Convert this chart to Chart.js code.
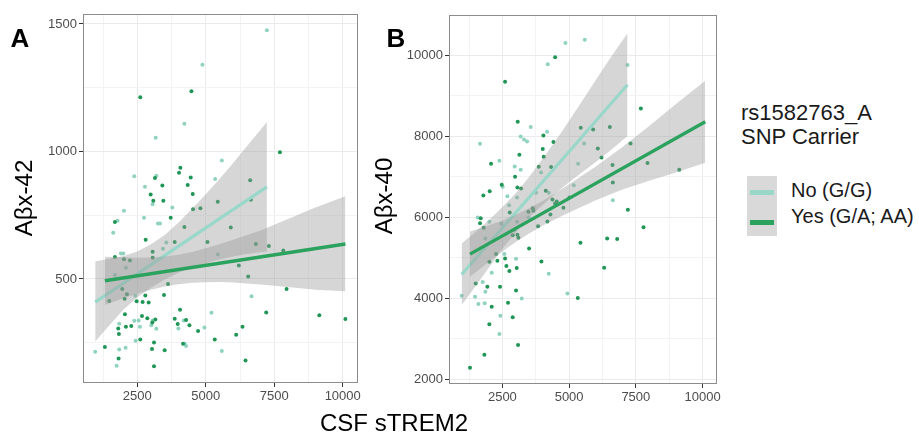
<!DOCTYPE html>
<html><head><meta charset="utf-8">
<script src="https://cdn.jsdelivr.net/npm/chart.js@4.4.0/dist/chart.umd.min.js"></script>
<style>
body{margin:0;background:#fff;}
#wrap{position:relative;width:919px;height:434px;overflow:hidden;font-family:'Liberation Sans',Arial,sans-serif;background:#fff;}
canvas{position:absolute;}
.t{position:absolute;white-space:nowrap;color:#000;}
</style></head><body><div id="wrap">
<canvas id="cA" width="370" height="410" style="left:0px;top:0px"></canvas>
<canvas id="cB" width="360" height="410" style="left:370px;top:0px"></canvas>
<div class="t" style="left:10.5px;top:25px;font-size:26px;line-height:26px;font-weight:bold;">A</div>
<div class="t" style="left:386.5px;top:25px;font-size:26px;line-height:26px;font-weight:bold;">B</div>
<div class="t" style="left:-36px;top:185.5px;width:120px;height:24px;font-size:24px;line-height:24px;text-align:center;transform:rotate(-90deg);">Aβx-42</div>
<div class="t" style="left:323.5px;top:184px;width:120px;height:24px;font-size:24px;line-height:24px;text-align:center;transform:rotate(-90deg);">Aβx-40</div>
<div class="t" style="left:244px;top:410.7px;width:300px;font-size:24px;line-height:24px;text-align:center;">CSF sTREM2</div>
<div class="t" style="left:741px;top:100.8px;font-size:22px;line-height:24.5px;color:#1a1a1a;">rs1582763_A<br>SNP Carrier</div>
<div style="position:absolute;left:747px;top:176px;width:30px;height:60px;background:#d9d9d9;"></div>
<div style="position:absolute;left:750px;top:189.5px;width:24px;height:5px;background:#99d8c9;"></div>
<div style="position:absolute;left:750px;top:219.5px;width:24px;height:5px;background:#2ca25f;"></div>
<div class="t" style="left:791px;top:180px;font-size:20px;line-height:20px;color:#1a1a1a;">No (G/G)</div>
<div class="t" style="left:791px;top:206.4px;font-size:20px;line-height:20px;color:#1a1a1a;">Yes (G/A; AA)</div>
</div>
<script>
// ---------- Tick values ----------
const xTicks = [1250,2500,3750,5000,6250,7500,8750,10000];
const xMajor = [2500,5000,7500,10000];
const aYTicks = [250,500,750,1000,1250,1500];
const aYMajor = [500,1000,1500];
const bYTicks = [2000,3000,4000,5000,6000,7000,8000,9000,10000];
const bYMajor = [2000,4000,6000,8000,10000];

// ---------- Panel A: Abx-42 ----------
const aNoX = [7232,4878,4220,3171,5586,2390,3195,5341,2780,3061,2012,3780,2744,1780,3256,3329,1622,3561,3439,5439,1902,1988,2085,1683,2427,6671,2390,2549,3061,3012,3195,1841,2597,2439,4000,4195,4951,5207,4232,4280,963,1841,2073,5586,1744];
const aNoY = [1475,1340,1109,1054,965,903,905,892,862,793,767,780,740,728,717,717,681,643,618,596,600,600,544,516,434,432,336,337,337,318,305,324,313,258,306,337,310,367,246,237,215,223,230,217,160];
const aYesX = [4476,2610,7707,4073,4024,3146,4451,3415,4341,6622,2988,4524,3085,3451,6646,4537,4805,5439,3720,1683,4220,5914,2805,3866,3061,5061,6829,7305,7829,1683,3061,2012,2232,1476,1951,2037,2122,2476,2695,2915,2793,3622,3476,6207,6549,7951,2049,2671,2866,3159,3049,2085,1805,2280,1829,2610,3866,4061,3976,4280,4403,4719,5329,6341,6110,7207,9146,10098,3110,4171,1317,3037,3500,1817,3110,6451];
const aYesY = [1236,1213,997,936,916,896,898,866,868,887,831,833,807,807,811,773,777,803,740,723,704,702,654,645,607,645,637,629,612,586,583,577,572,414,461,422,440,413,410,408,435,480,437,553,510,461,362,355,346,341,329,313,306,316,284,263,344,379,323,339,318,296,263,313,281,368,358,343,251,246,233,225,220,188,158,180];
const aNoLineX = [963,7232];
const aNoLineY = [409,861];
const aYesLineX = [1317,10098];
const aYesLineY = [493,637];
const aNoBandX = [963,1500,2000,2500,3000,3500,4000,4500,5000,5500,6000,6500,7000,7232];
const aNoBandUp = [568,580,590,608,636,672,720,775,832,892,955,1020,1085,1115];
const aNoBandLo = [255,320,380,428,466,498,524,545,562,576,588,598,605,608];
const aYesBandX = [1317,2000,2500,3000,3500,4000,4500,5000,5500,6000,7000,8000,9000,10098];
const aYesBandUp = [587,585,583,584,588,595,606,620,636,654,690,735,780,824];
const aYesBandLo = [398,424,442,458,470,479,485,487,488,486,478,468,458,452];

// ---------- Panel B: Abx-40 ----------
const bNoX = [4862,5587,4200,7187,3562,1662,3187,3312,3425,4175,5562,2387,2962,3187,3950,5337,2512,2687,3050,3762,4237,5175,6637,2750,1575,2012,2462,3050,2950,3487,1862,2575,3012,4237,1762,1862,3225,1475,975,1600,1837,4937,2425,2387,2100];
const bNoY = [10296,10379,9770,9753,8222,7811,7992,7918,7868,8107,7819,7391,7251,7169,7103,7317,6747,6517,6485,6600,6600,6788,6419,6296,5992,5885,5836,5885,5680,5992,5474,5088,4973,4604,4398,4160,3996,4037,4062,3856,3873,4119,3569,3117,4630];
const bYesX = [4475,2600,7687,3075,5437,5900,6525,4037,4412,6075,7300,4012,3137,4050,6212,2075,2975,3862,4325,6625,7937,9125,2475,3062,3200,2025,1787,4125,6637,4375,4537,4475,4787,5012,3637,3475,3662,4300,2775,1687,1662,1800,3837,4187,3062,3100,2887,2012,2262,2312,2600,2650,2762,3037,3500,3962,5425,6425,6800,7200,7787,6312,1500,1937,2412,3012,5325,2100,2712,2887,2012,3087,1825,1287];
const bYesY = [9942,9342,8683,8354,8206,8165,8222,8017,7852,7696,7819,7679,7539,7490,7473,7317,6996,7243,7235,7284,7333,7169,6797,6731,6706,6641,6534,6649,6854,6435,6386,6337,6230,6485,6222,6131,6156,6066,6115,5975,5852,5737,5778,5893,5565,5491,5556,4899,5088,4924,4981,4793,4669,4743,5228,4907,5368,5474,5458,6181,5754,4751,4365,4283,4283,4193,4004,3790,3889,3528,3355,2846,2608,2287];
const bNoLineX = [975,7187];
const bNoLineY = [4587,9267];
const bYesLineX = [1287,10100];
const bYesLineY = [5088,8354];
const bNoBandX = [975,1500,2000,2500,3000,3500,4000,4500,5000,5500,6000,6500,7187];
const bNoBandUp = [5350,5640,5930,6250,6590,6990,7436,7893,8380,8876,9383,9880,10535];
const bNoBandLo = [3830,4300,4760,5220,5620,6000,6296,6593,6860,7116,7363,7620,8000];
const bYesBandX = [1287,2000,2500,3000,3500,4000,4500,5000,6000,7000,8000,9000,10100];
const bYesBandUp = [5648,5800,5920,6060,6220,6400,6600,6810,7250,7730,8250,8790,9364];
const bYesBandLo = [4528,4900,5150,5385,5595,5785,5955,6115,6415,6680,6900,7100,7344];

// ---------- Styling ----------
const NO_COL = '#99d8c9';
const YES_COL = '#2ca25f';
const NO_DOT = '#8fd3bf';
const YES_DOT = '#1f9655';
const BAND = 'rgba(153,153,153,0.4)';
const FONT = 'Liberation Sans';

function pts(xs, ys){ return xs.map((x,i)=>({x:x, y:ys[i]})); }

const borderPlugin = {
  id:'panelBorder',
  afterDraw(chart){
    const a = chart.chartArea, c = chart.ctx;
    c.save(); c.strokeStyle = '#8c8c8c'; c.lineWidth = 1;
    c.strokeRect(Math.round(a.left)+0.5, Math.round(a.top)+0.5, Math.round(a.right-a.left)-1, Math.round(a.bottom-a.top)-1);
    c.restore();
  }
};

function axis(min, max, ticks, major, fitFn){
  const isMaj = v => major.indexOf(v) >= 0;
  return {
    type:'linear', min:min, max:max,
    afterBuildTicks: s => { s.ticks = ticks.map(v=>({value:v})); },
    afterFit: fitFn,
    border:{display:false},
    grid:{
      color: c => (c.tick && isMaj(c.tick.value)) ? '#ebebeb' : '#f3f3f3',
      lineWidth: 1,
      drawTicks:true, tickLength:4, tickWidth:1,
      tickColor: c => (c.tick && isMaj(c.tick.value)) ? '#333333' : 'rgba(0,0,0,0)'
    },
    ticks:{
      autoSkip:false, maxRotation:0, minRotation:0, padding:2,
      font:{family:FONT, size:13}, color:'#4d4d4d',
      callback: v => isMaj(v) ? String(v) : ''
    }
  };
}

function makeChart(id, d, ax, pad){
  const ds = [
    {data:pts(d.noX,d.noY), showLine:false, pointRadius:2, pointBorderWidth:0, pointBackgroundColor:NO_DOT, order:10},
    {data:pts(d.yesX,d.yesY), showLine:false, pointRadius:2, pointBorderWidth:0, pointBackgroundColor:YES_DOT, order:9},
    {data:pts(d.nbX,d.nbUp), borderWidth:0, borderColor:'rgba(0,0,0,0)', pointRadius:0, fill:false, order:6},
    {data:pts(d.nbX,d.nbLo), borderWidth:0, borderColor:'rgba(0,0,0,0)', pointRadius:0, fill:'-1', backgroundColor:BAND, order:6},
    {data:pts(d.nlX,d.nlY), borderWidth:3.2, borderColor:NO_COL, pointRadius:0, fill:false, order:5},
    {data:pts(d.ybX,d.ybUp), borderWidth:0, borderColor:'rgba(0,0,0,0)', pointRadius:0, fill:false, order:4},
    {data:pts(d.ybX,d.ybLo), borderWidth:0, borderColor:'rgba(0,0,0,0)', pointRadius:0, fill:'-1', backgroundColor:BAND, order:4},
    {data:pts(d.ylX,d.ylY), borderWidth:3.4, borderColor:YES_COL, pointRadius:0, fill:false, order:3}
  ];
  return new Chart(document.getElementById(id), {
    type:'line',
    data:{datasets:ds},
    options:{
      responsive:false, animation:false, devicePixelRatio:1,
      layout:{padding:pad},
      elements:{line:{tension:0}},
      plugins:{legend:{display:false}, tooltip:{enabled:false}},
      scales:ax
    },
    plugins:[borderPlugin]
  });
}

makeChart('cA', {
  noX:aNoX, noY:aNoY, yesX:aYesX, yesY:aYesY,
  nbX:aNoBandX, nbUp:aNoBandUp, nbLo:aNoBandLo, nlX:aNoLineX, nlY:aNoLineY,
  ybX:aYesBandX, ybUp:aYesBandUp, ybLo:aYesBandLo, ylX:aYesLineX, ylY:aYesLineY
}, {
  x: axis(518, 10558, xTicks, xMajor, s => { s.height = 27; }),
  y: axis(92, 1539, aYTicks, aYMajor, s => { s.width = 83; })
}, {left:0, top:14, right:12, bottom:0});

makeChart('cB', {
  noX:bNoX, noY:bNoY, yesX:bYesX, yesY:bYesY,
  nbX:bNoBandX, nbUp:bNoBandUp, nbLo:bNoBandLo, nlX:bNoLineX, nlY:bNoLineY,
  ybX:bYesBandX, ybUp:bYesBandUp, ybLo:bYesBandLo, ylX:bYesLineX, ylY:bYesLineY
}, {
  x: axis(500, 10540, xTicks, xMajor, s => { s.height = 26; }),
  y: axis(1884, 10987, bYTicks, bYMajor, s => { s.width = 79; })
}, {left:0, top:15, right:13, bottom:0});
</script>
</body></html>
